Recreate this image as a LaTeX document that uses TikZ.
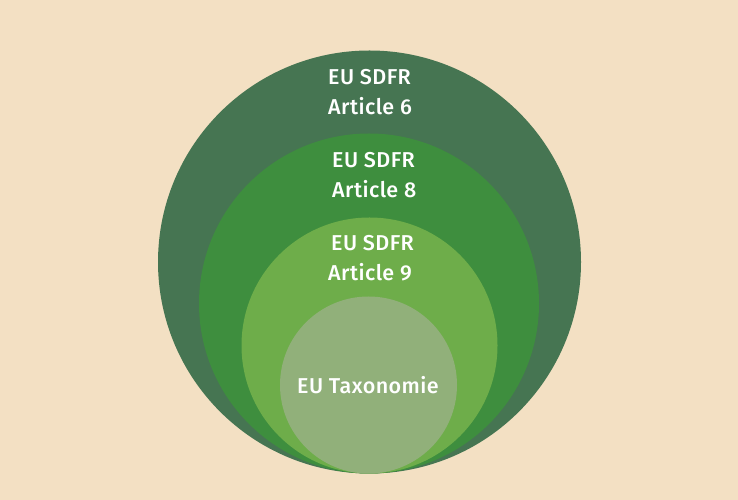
\documentclass[tikz,border=0pt]{standalone}
\usepackage{fontspec}
\setmainfont{Fira Sans}[UprightFont=* Medium, LetterSpace=2]
\definecolor{bgc}{RGB}{243,224,195}
\definecolor{cA}{RGB}{70,117,82}
\definecolor{cB}{RGB}{62,142,62}
\definecolor{cC}{RGB}{110,173,74}
\definecolor{cD}{RGB}{145,176,122}
\tikzset{
  ring/.style={draw=none},
  lbl/.style={text=white, inner sep=0pt, anchor=base west, font=\fontsize{21.5}{25}\selectfont}
}
\begin{document}
\begin{tikzpicture}[x=1pt,y=1pt]
\fill[bgc] (0,0) rectangle (738,500);
\useasboundingbox (0,0) rectangle (738,500);
\fill[cA, ring] (369.5,238) circle (211.5);
\fill[cB, ring] (369,196.5) circle (170);
\fill[cC, ring] (369.5,154.5) circle (128);
\fill[cD, ring] (368.5,115) circle (88.5);
\node[lbl] (a6a) at (328,415) {EU SDFR};
\node[lbl] (a6b) at (328,385) {Article 6};
\node[lbl] (a8a) at (332,332) {EU SDFR};
\node[lbl] (a8b) at (332,302) {Article 8};
\node[lbl] (a9a) at (331,249) {EU SDFR};
\node[lbl] (a9b) at (328,219) {Article 9};
\node[lbl] (tax) at (297,106) {EU Taxonomie};
\end{tikzpicture}
\end{document}
